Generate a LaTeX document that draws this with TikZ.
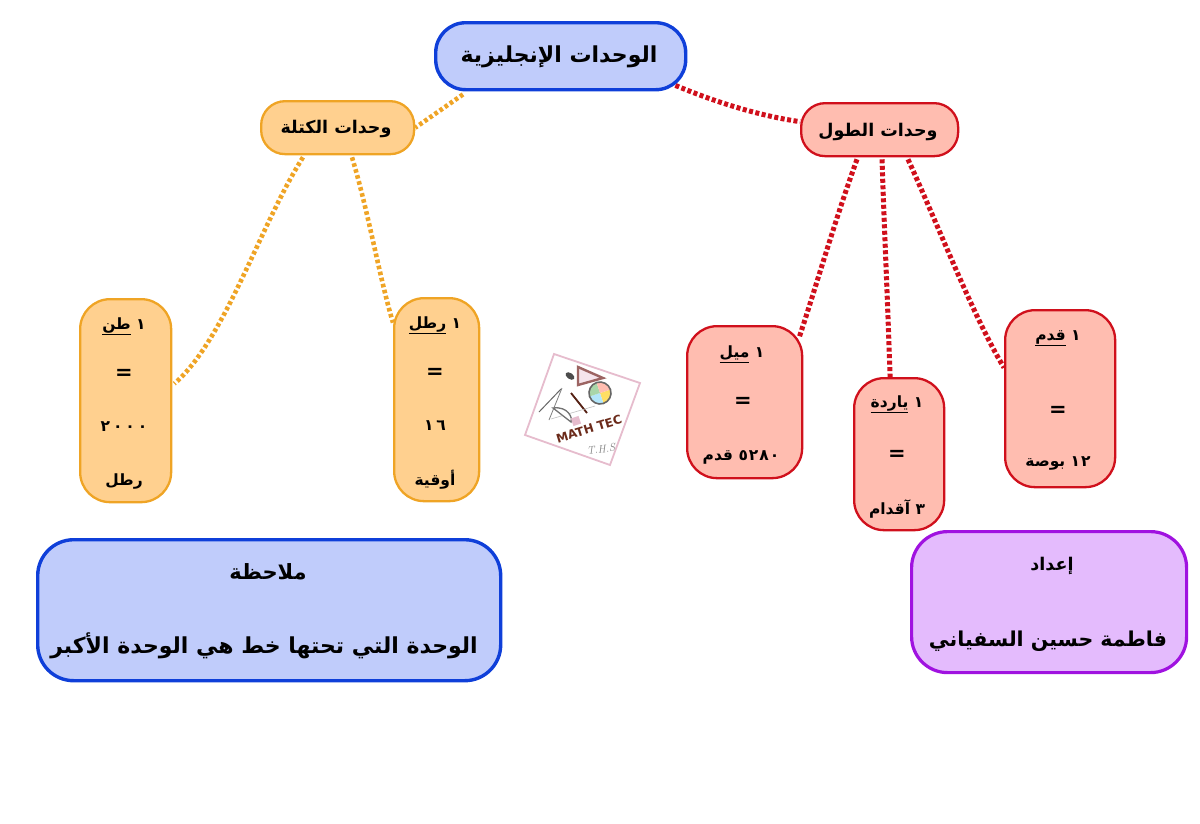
\documentclass[tikz,border=0pt]{standalone}
\usepackage{fontspec}
\usetikzlibrary{calc,backgrounds}
\TeXXeTstate=1
\newfontfamily\arabicfont[Script=Arabic]{DejaVu Sans Bold}
\newfontfamily\logofont{DejaVu Sans Bold}
\newcommand{\ar}[1]{\beginR #1\endR}
\newcommand{\ul}[1]{\underline{\hbox{\beginR #1\endR}}}
\newcommand{\dgap}{\kern3pt}
\newcommand{\nums}[1]{\beginL #1\endL}
\definecolor{blueF}{HTML}{C0CCFB}\definecolor{blueD}{HTML}{0F3FD9}
\definecolor{orF}{HTML}{FFD08F}\definecolor{orD}{HTML}{EFA425}
\definecolor{redF}{HTML}{FFBDB0}\definecolor{redD}{HTML}{D0101C}
\definecolor{purF}{HTML}{E4BBFD}\definecolor{purD}{HTML}{A012E0}
\definecolor{logoP}{HTML}{E6BCCD}\definecolor{logoBr}{HTML}{6B2A1A}
\tikzset{
 box/.style={draw,rectangle,inner sep=0pt,anchor=north west},
 bluebox/.style={box,draw=blueD,fill=blueF,line width=3.4pt},
 orbox/.style={box,draw=orD,fill=orF,line width=2.3pt},
 redbox/.style={box,draw=redD,fill=redF,line width=2.3pt},
 purbox/.style={box,draw=purD,fill=purF,line width=3.2pt},
 lbl/.style={inner sep=0pt,yshift=-3pt,font=\arabicfont\fontsize{15.5}{15.5}\selectfont},
 lblE/.style={inner sep=0pt,yshift=-1pt,font=\arabicfont\fontsize{21}{21}\selectfont},
 lblS/.style={inner sep=0pt,yshift=-3pt,font=\arabicfont\fontsize{17.5}{18}\selectfont},
 lblM/.style={inner sep=0pt,yshift=-3pt,font=\arabicfont\fontsize{21}{21}\selectfont},
 lblL/.style={inner sep=0pt,yshift=-3pt,font=\arabicfont\fontsize{22}{22}\selectfont},
 lblA/.style={inner sep=0pt,yshift=-3pt,font=\arabicfont\fontsize{20.5}{21}\selectfont},
 lblT/.style={inner sep=0pt,yshift=-3pt,font=\arabicfont\fontsize{22}{22}\selectfont},
 redlink/.style={draw=redD,line width=5pt,dash pattern=on 4pt off 2.5pt},
 orlink/.style={draw=orD,line width=4.6pt,dash pattern=on 3.6pt off 2.6pt},
}
\begin{document}
\begin{tikzpicture}[x=1pt,y=-1pt]
\useasboundingbox (0,0) rectangle (1200,823);
% boxes
\node[bluebox,minimum width=250pt,minimum height=67pt,rounded corners=30pt] (title) at (434,21) {};
\node[orbox,minimum width=153pt,minimum height=53pt,rounded corners=24pt] (mass) at (260,100) {};
\node[redbox,minimum width=157pt,minimum height=53pt,rounded corners=24pt] (len) at (800,102) {};
\node[orbox,minimum width=91pt,minimum height=203pt,rounded corners=30pt] (ton) at (79,298) {};
\node[orbox,minimum width=85pt,minimum height=203pt,rounded corners=30pt] (pound) at (393,297) {};
\node[redbox,minimum width=115pt,minimum height=152pt,rounded corners=30pt] (mile) at (686,325) {};
\node[redbox,minimum width=90pt,minimum height=152pt,rounded corners=30pt] (yard) at (853,377) {};
\node[redbox,minimum width=110pt,minimum height=177pt,rounded corners=30pt] (foot) at (1004,309) {};
\node[bluebox,minimum width=463pt,minimum height=141pt,rounded corners=36pt] (note) at (36,538) {};
\node[purbox,minimum width=275pt,minimum height=141pt,rounded corners=36pt] (auth) at (910,530) {};
% connectors
\begin{scope}[on background layer]
\draw[orlink] ($(title.south west)+(29,3)$) -- (mass.east);
\draw[redlink] ($(title.south east)+(-12,-6)$) .. controls (715,102) and (760,116) .. ($(len.west)+(0,-8)$);
\draw[orlink] ($(mass.south west)+(43,2)$) .. controls (260,225) and (225,340) .. ($(ton.east)+(2,-17)$);
\draw[orlink] ($(mass.south west)+(92,2)$) .. controls (368,210) and (380,280) .. ($(pound.west)+(0,-77)$);
\draw[redlink] ($(len.south west)+(57,2)$) .. controls (835,220) and (815,290) .. ($(mile.north east)+(-4,12)$);
\draw[redlink] ($(len.south west)+(82,2)$) .. controls (884,220) and (888,310) .. ($(yard.north)+(-9,2)$);
\draw[redlink] ($(len.south west)+(108,2)$) .. controls (940,230) and (975,320) .. ($(foot.west)+(0,-31)$);
\end{scope}
% texts
\node[lblT] (tTitle) at (559,54) {\ar{الوحدات الإنجليزية}};
\node[lblS] (tMass) at (336,126) {\ar{وحدات الكتلة}};
\node[lblS] (tLen) at (878,129) {\ar{وحدات الطول}};
\node[lbl] (ton1) at (124,323) {\ar{١ \ul{طن}}};
\node[lblE] (ton2) at (124,373) {=};
\node[lbl] (ton3) at (124,424) {\nums{٢\dgap ٠\dgap ٠\dgap ٠}};
\node[lbl] (ton4) at (124,478) {\ar{رطل}};
\node[lbl] (pound1) at (435,322) {\ar{١ \ul{رطل}}};
\node[lblE] (pound2) at (435,372) {=};
\node[lbl] (pound3) at (435,423) {\nums{١\dgap ٦}};
\node[lbl] (pound4) at (435,477) {\ar{أوقية}};
\node[lbl] (mile1) at (742,351) {\ar{١ \ul{ميل}}};
\node[lblE] (mile2) at (743,401) {=};
\node[lbl] (mile3) at (741,454) {\ar{\nums{٥\kern1pt ٢\kern1pt ٨\kern1pt ٠} قدم}};
\node[lbl] (yard1) at (897,401) {\ar{١ \ul{ياردة}}};
\node[lblE] (yard2) at (897,454) {=};
\node[lbl] (yard3) at (897,506) {\ar{٣ آقدام}};
\node[lbl] (foot1) at (1058,335) {\ar{١ \ul{قدم}}};
\node[lblE] (foot2) at (1058,410) {=};
\node[lbl] (foot3) at (1058,460) {\ar{\nums{١\kern1pt ٢} بوصة}};
\node[lblM] (nHead) at (268,569) {\ar{ملاحظة}};
\node[lblL] (nBody) at (264,643) {\ar{الوحدة التي تحتها خط هي الوحدة الأكبر}};
\node[lblS] (aHead) at (1052,563) {\ar{إعداد}};
\node[lblA] (aBody) at (1048,638) {\ar{فاطمة حسين السفياني}};
% logo
\draw[logoP,line width=1.8pt,fill=white] (554,354) -- (640,383) -- (610,465) -- (525,435) -- cycle;
\draw[line width=2.4pt,draw=logoBr!60!logoP,fill=logoP!40] (578,367) -- (603,378) -- (578,385) -- cycle;
\fill[gray!60!black,rotate around={-35:(570,376)}] (570,376) ellipse (5pt and 3pt);
\begin{scope}[shift={(600,393)},rotate=18]
\fill[orF!70!yellow] (0,0) -- (11,0) arc (0:90:11) -- cycle;
\fill[cyan!30] (0,0) -- (0,11) arc (90:180:11) -- cycle;
\fill[green!35!gray!50] (0,0) -- (-11,0) arc (180:270:11) -- cycle;
\fill[redF] (0,0) -- (0,-11) arc (270:360:11) -- cycle;
\draw[black!60,line width=1.6pt] (0,0) circle (11);
\end{scope}
\draw[gray!80!black,line width=1pt] (539,412) -- (561,389);
\draw[gray,line width=.8pt] (549,420) -- (562,388);
\draw[logoBr!80!black,line width=1.8pt] (571,393) -- (587,413);
\draw[gray!50,line width=.6pt] (551,419) -- (595,406);
\draw[black!55,fill=white,line width=1.3pt] (553,408) .. controls (568,406) and (573,418) .. (571,422) -- cycle;
\fill[logoP,rotate around={18:(576,421)}] (572,417) rectangle (580,425);
\node[inner sep=0pt,rotate=17,text=logoBr,font=\logofont\fontsize{12}{12}\selectfont] (logoA) at (589,429) {MATH TEC};
\node[inner sep=0pt,rotate=6,text=gray,font=\itshape\fontsize{11}{11}\selectfont] (logoC) at (601,449) {T.H.S};
\end{tikzpicture}
\end{document}
